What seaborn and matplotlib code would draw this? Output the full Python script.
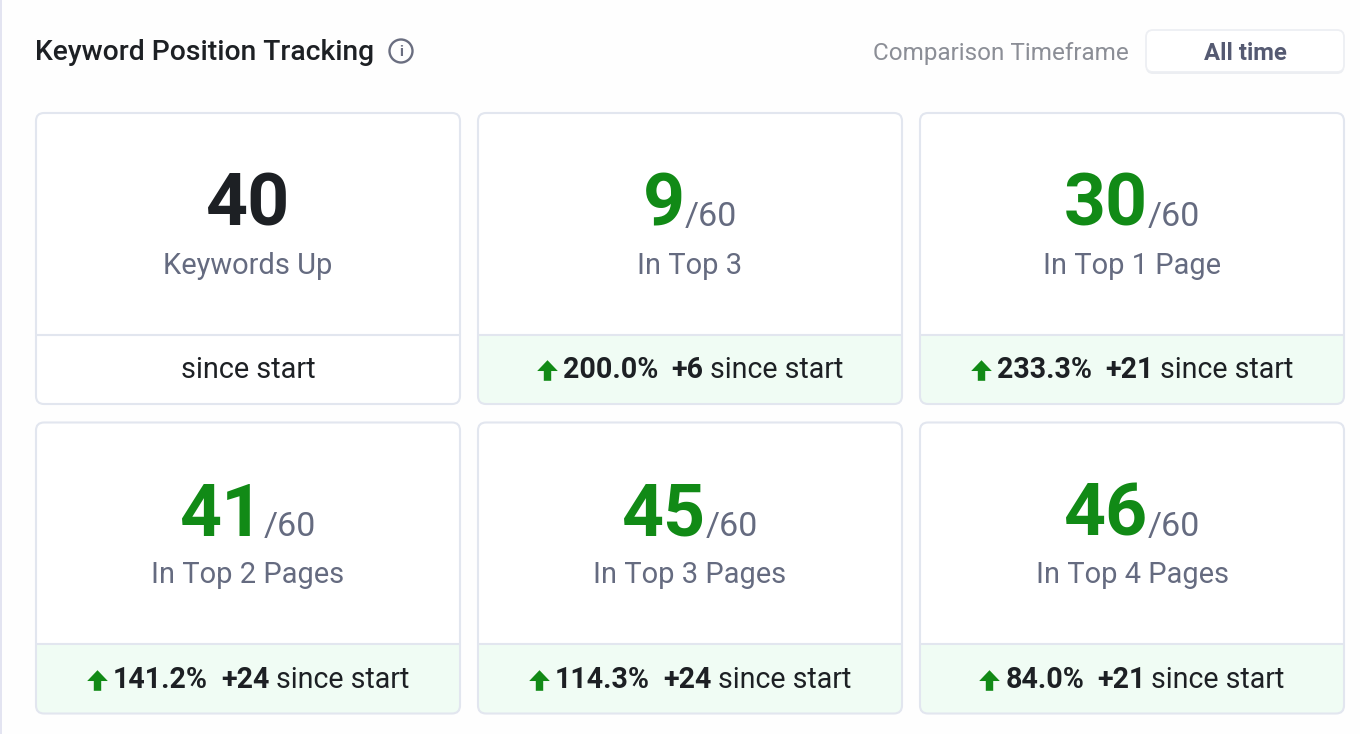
import matplotlib
matplotlib.use("Agg")
import matplotlib.pyplot as plt
from matplotlib.patches import FancyBboxPatch, Rectangle, Circle
from matplotlib.path import Path
import seaborn as sns

# ---- data ----
title = "Keyword Position Tracking"
timeframe_label = "Comparison Timeframe"
timeframe_value = "All time"
card_values = [40, 9, 30, 41, 45, 46]
card_totals = [None, 60, 60, 60, 60, 60]
card_labels = ["Keywords Up", "In Top 3", "In Top 1 Page",
               "In Top 2 Pages", "In Top 3 Pages", "In Top 4 Pages"]
card_pcts = [None, "200.0%", "233.3%", "141.2%", "114.3%", "84.0%"]
card_deltas = [None, "+6", "+21", "+24", "+24", "+21"]
footer_text = "since start"

# ---- style ----
sns.set_theme(style="white")
plt.rcParams["font.family"] = ["Roboto", "DejaVu Sans"]
INK, GREEN, GREY, LINE = "#1d2024", "#118a16", "#656b80", "#e2e6ef"
FOOT = "#f0fcf4"

fig = plt.figure(figsize=(13.6, 7.34), dpi=100, facecolor="#fefefe")
ax = fig.add_axes([0, 0, 1, 1])
ax.set_xlim(0, 1360); ax.set_ylim(734, 0); ax.axis("off")
renderer = fig.canvas.get_renderer()

# marker paths are drawn in display orientation (y up), so the tip has y = +1
arrow_path = Path([(0, 1), (1, -0.05), (0.36, -0.05), (0.36, -1), (-0.36, -1),
                   (-0.36, -0.05), (-1, -0.05), (0, 1)])


def width(s, size, weight):
    t = ax.text(0, 0, s, fontsize=size, fontweight=weight)
    w = t.get_window_extent(renderer).width
    t.remove()
    return w


def runs(cx, y, parts):
    """Centre a row of (text, size, weight, colour, gap) runs on cx at baseline y."""
    ws = [width(p[0], p[1], p[2]) for p in parts]
    x = cx - (sum(ws) + sum(p[4] for p in parts)) / 2
    for p, w in zip(parts, ws):
        ax.text(x, y, p[0], fontsize=p[1], fontweight=p[2], color=p[3],
                ha="left", va="baseline")
        x += w + p[4]


# left edge rule
ax.add_patch(Rectangle((0, 0), 2, 734, color="#e3e4f1", lw=0))

# header
ax.text(35, 60, title, fontsize=20.3, fontweight="medium", color=INK, va="baseline")
ax.add_patch(Circle((401, 51), 11.5, fill=False, ec="#6a6e80", lw=1.7))
ax.text(401, 51.5, "i", fontsize=11, fontweight="bold", color="#6a6e80",
        ha="center", va="center")
ax.text(1129, 60, timeframe_label, fontsize=17.5, color="#8b8e96", ha="right", va="baseline")
ax.add_patch(FancyBboxPatch((1146, 32), 198, 42, boxstyle="round,pad=0,rounding_size=7",
                            fc="#eceef2", ec="none"))
ax.add_patch(FancyBboxPatch((1146, 30), 198, 42, boxstyle="round,pad=0,rounding_size=7",
                            fc="#ffffff", ec="#edeff3", lw=1.3))
ax.text(1245.5, 60, timeframe_value, fontsize=17.2, fontweight="bold", color="#555a72",
        ha="center", va="baseline")

# cards
lefts = [36, 478, 920]
tops = [113, 422.5]
W, H, FOOT_H = 424, 291, 69.5
for i in range(6):
    x0 = lefts[i % 3]
    y0 = tops[i // 3]
    cx = x0 + W / 2
    card = FancyBboxPatch((x0, y0), W, H, boxstyle="round,pad=0,rounding_size=8",
                          fc="#ffffff", ec="none", zorder=1)
    ax.add_patch(card)
    div = y0 + H - FOOT_H
    if card_pcts[i] is not None:
        foot = Rectangle((x0, div), W, FOOT_H, fc=FOOT, ec="none", zorder=1.1)
        ax.add_patch(foot)
        foot.set_clip_path(card)
    ax.add_patch(FancyBboxPatch((x0, y0), W, H, boxstyle="round,pad=0,rounding_size=8",
                                fc="none", ec=LINE, lw=1.5, zorder=1.2))
    ax.plot([x0, x0 + W], [div, div], color=LINE, lw=1.5, zorder=1.3, solid_capstyle="butt")

    # big number
    base = y0 + 113
    if card_totals[i] is None:
        runs(cx, base, [(str(card_values[i]), 52.8, "bold", INK, 0)])
    else:
        runs(cx, base, [(str(card_values[i]), 52.8, "bold", GREEN, 0),
                        (f"/{card_totals[i]}", 24.5, "normal", GREY, 0)])
    ax.text(cx, y0 + 160.5, card_labels[i], fontsize=20.9, color=GREY, ha="center", va="baseline")

    # footer
    by = y0 + 265.5
    if card_pcts[i] is None:
        ax.text(cx, by, footer_text, fontsize=20.8, color=INK, ha="center", va="baseline")
    else:
        parts = [(card_pcts[i], 20.6, "bold", INK, 13),
                 (card_deltas[i], 20.6, "bold", INK, 6),
                 (footer_text, 20.6, "normal", INK, 0)]
        ws = [width(p[0], p[1], p[2]) for p in parts]
        total = sum(ws) + sum(p[4] for p in parts)
        arrow_w, arrow_gap = 20, 6
        start = cx - (total + arrow_w + arrow_gap) / 2
        ax.scatter([start + arrow_w / 2], [by - 8.5], marker=arrow_path, s=220,
                   color=GREEN, linewidths=0, zorder=3)
        runs(start + arrow_w + arrow_gap + total / 2, by, parts)

fig.savefig("out.png", dpi=100, facecolor=fig.get_facecolor())
